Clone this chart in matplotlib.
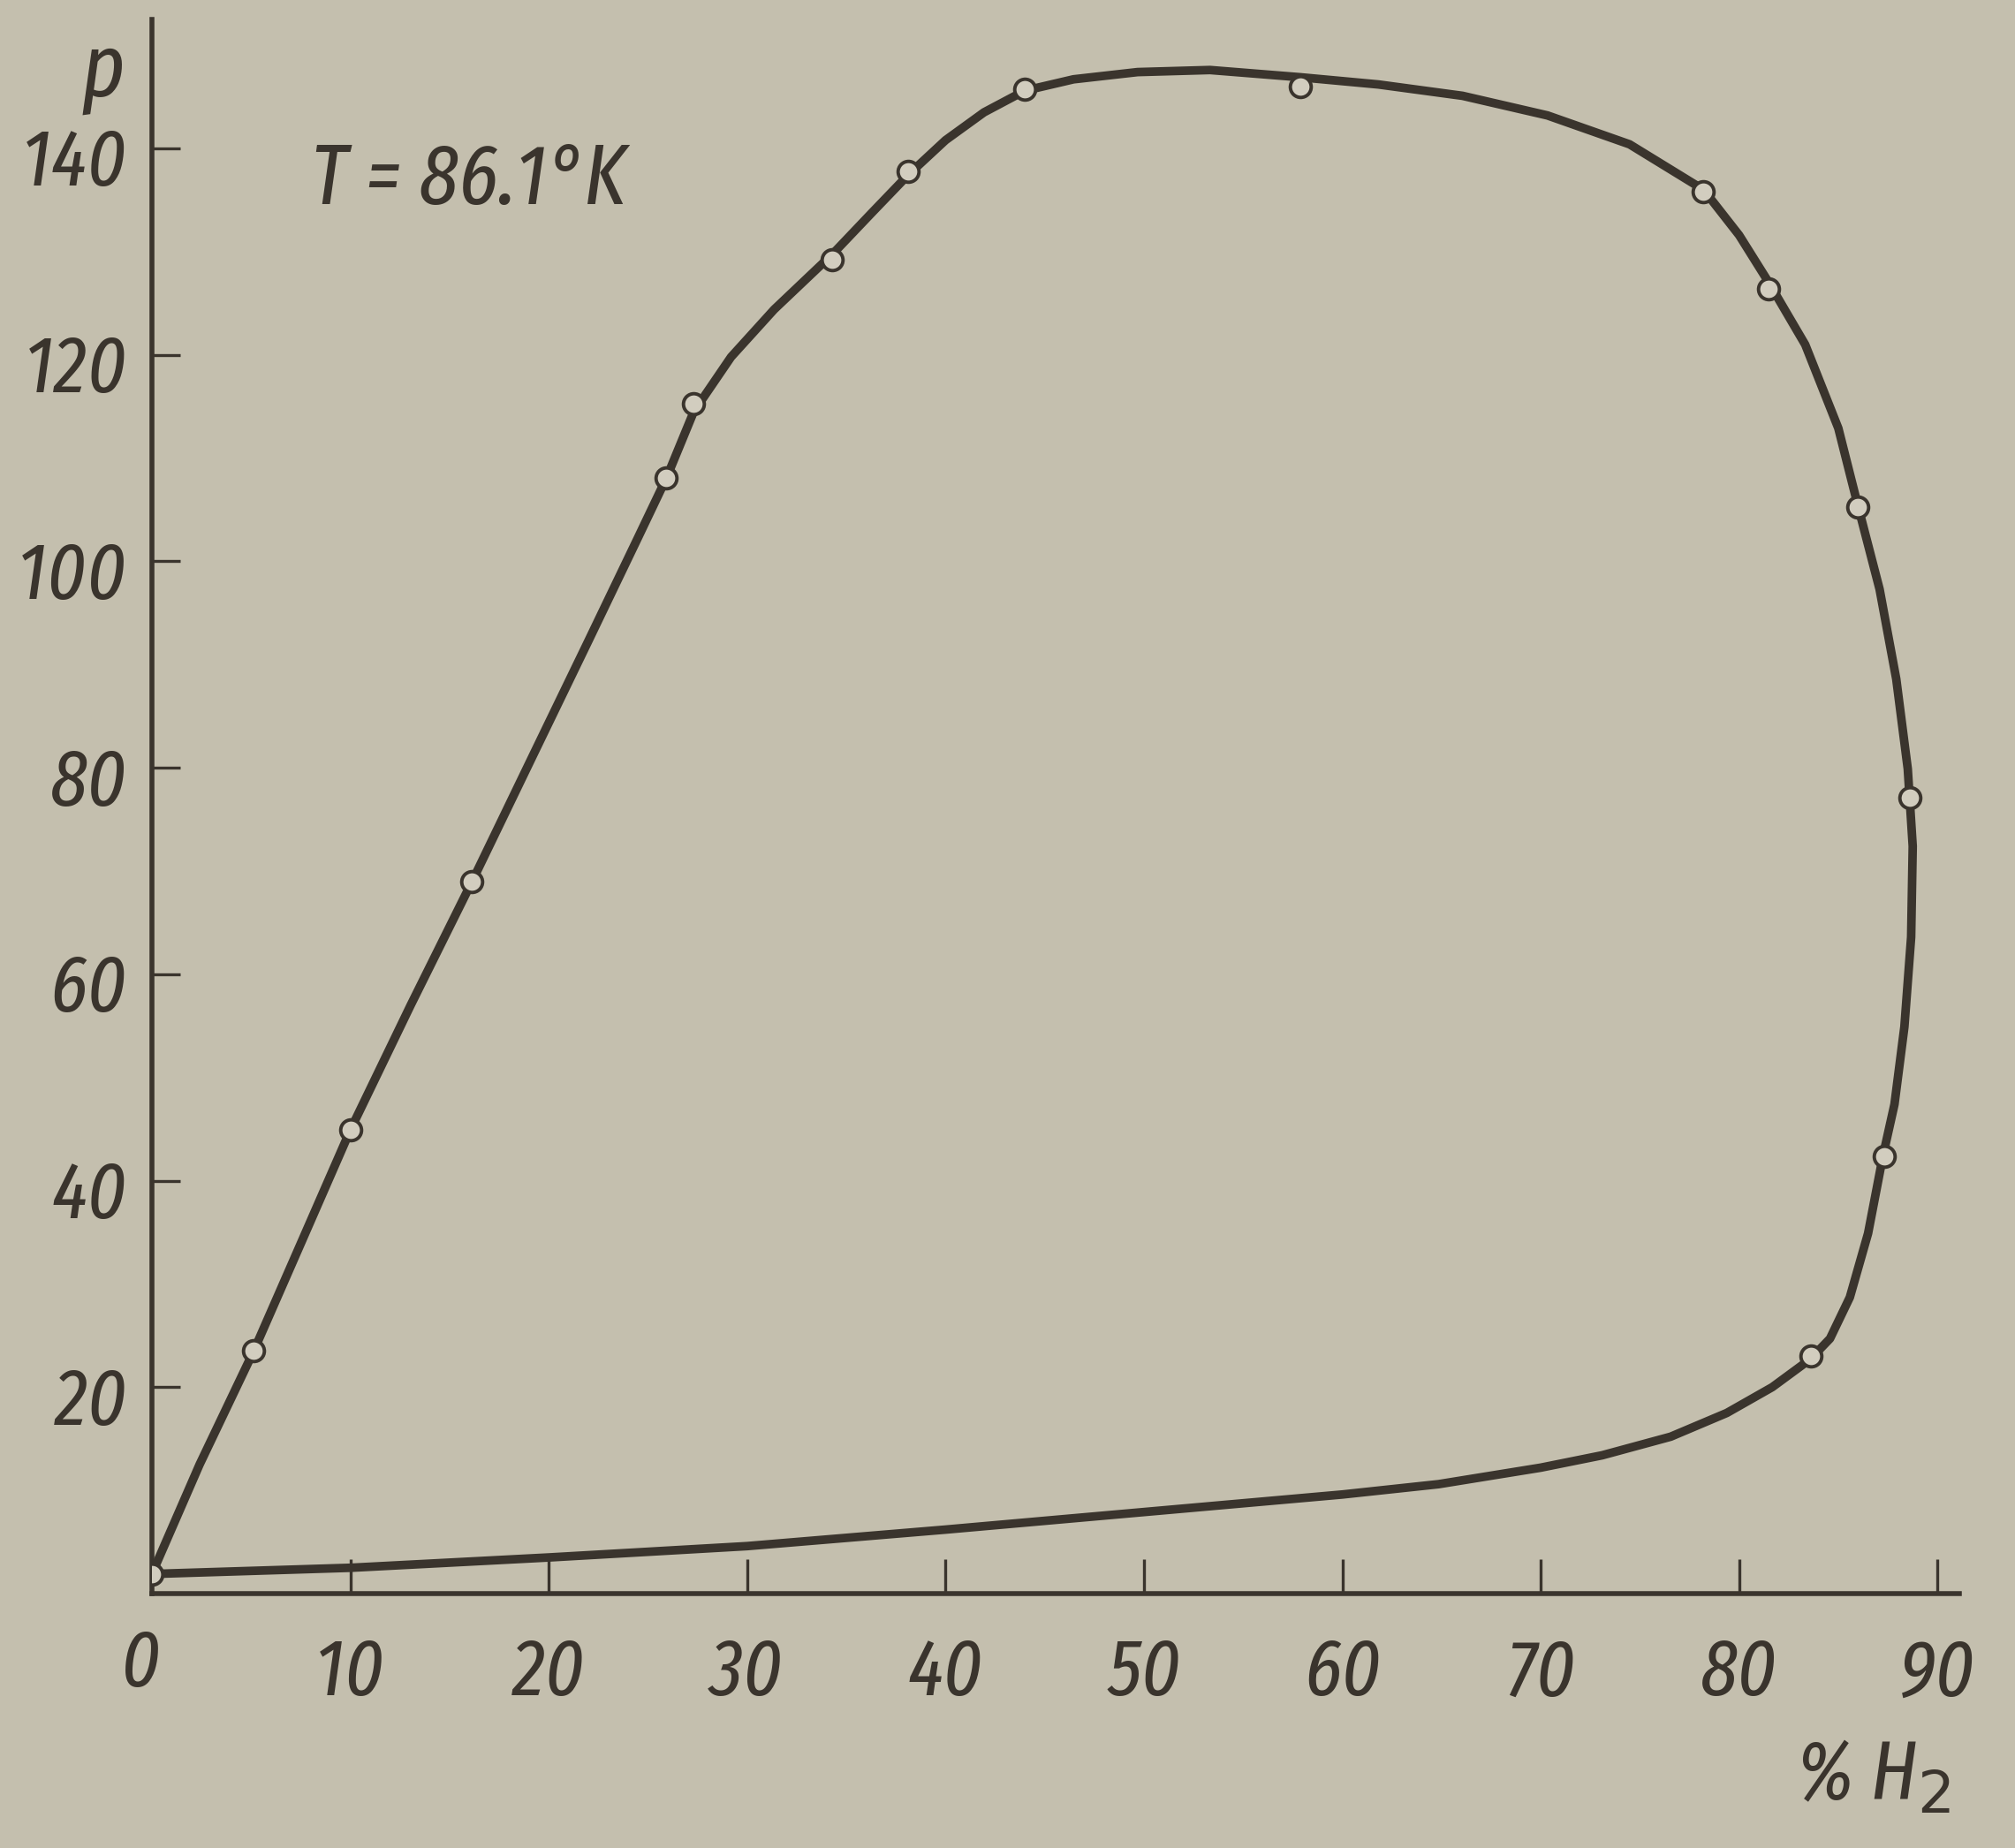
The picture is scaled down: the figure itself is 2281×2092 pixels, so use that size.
import matplotlib
matplotlib.use("Agg")
import matplotlib.pyplot as plt
from matplotlib import font_manager
from matplotlib.font_manager import FontProperties
from matplotlib.transforms import ScaledTranslation

# ---- data ----
# measured points: % H2 and pressure p
pts_x = [0.0, 5.1, 10.0, 16.1, 25.9, 27.3, 34.3, 38.1, 44.0, 57.9,
         78.2, 81.5, 86.0, 88.6, 87.3, 83.6]
pts_p = [1.9, 23.5, 44.9, 69.0, 108.1, 115.3, 129.2, 137.8, 145.7, 146.0,
         135.8, 126.4, 105.3, 77.1, 42.4, 23.0]

# curve (upper branch, then lower branch back to 0)
curve_x = [0.0, 2.4, 5.13, 7.59, 10.0, 13.04, 16.14, 19.18, 22.0, 24.5,
           25.94, 27.31, 29.19, 31.36, 34.32, 36.3, 38.15, 40.0, 41.94, 44.0,
           46.45, 49.68, 53.33, 57.88, 61.82, 66.06, 70.34, 74.48, 78.21, 80.0,
           81.5, 83.33, 85.0, 86.0, 87.08, 87.92, 88.5, 88.75, 88.67, 88.33,
           87.83, 87.25, 86.5, 85.58, 84.58, 83.58,
           81.67, 79.38, 76.55, 73.1, 70.0, 64.85, 60.0, 50.0, 40.0, 30.0,
           20.0, 10.0, 0.0]
curve_p = [1.9, 12.5, 23.5, 34.3, 44.9, 57.0, 69.0, 81.1, 92.3, 102.3,
           108.1, 114.5, 119.8, 124.4, 129.8, 133.8, 137.5, 140.8, 143.5, 145.6,
           146.7, 147.4, 147.6, 146.9, 146.2, 145.1, 143.2, 140.4, 136.0, 131.6,
           127.0, 121.0, 112.9, 105.3, 97.3, 88.6, 79.9, 72.4, 63.6, 54.9,
           47.4, 42.4, 34.9, 28.7, 24.7, 22.7,
           20.0, 17.5, 15.2, 13.4, 12.2, 10.6, 9.6, 7.9, 6.2, 4.6,
           3.5, 2.5, 1.9]

x_ticks = [10, 20, 30, 40, 50, 60, 70, 80, 90]
x_labels = ["10", "20", "30", "40", "50", "60", "70", "80", "90"]
y_ticks = [20, 40, 60, 80, 100, 120, 140]
y_labels = ["20", "40", "60", "80", "100", "120", "140"]

# ---- style ----
BG = "#c4bfae"
INK = "#3a342d"


def narrow_font():
    """Pick the narrowest installed sans face (italic preferred)."""
    cond = ("condensed", "semi-condensed", "extra-condensed", "ultra-condensed")
    found = []
    for f in font_manager.fontManager.ttflist:
        nm = f.name.lower()
        fn = f.fname.lower().replace("-", "").replace("_", "")
        st = f.stretch
        narrow = ("condensed" in nm or "narrow" in nm or "condensed" in fn or
                  (isinstance(st, str) and st in cond) or
                  (isinstance(st, (int, float)) and st < 100))
        if not narrow or "mono" in nm or "serif" in nm:
            continue
        bad = ("bold", "black", "heavy", "medium", "semibold", "light", "thin")
        if any(b in fn.split("/")[-1] for b in bad):
            continue
        it = 0 if (f.style in ("italic", "oblique") or "italic" in fn) else 1
        if "extracondensed" in fn or "ultracondensed" in fn:
            w = 0
        elif "semicondensed" in fn:
            w = 2
        else:
            w = 1
        found.append((it, w, f.fname))
    if found:
        found.sort()
        return found[0][2]
    return None


FNAME = narrow_font()


def fp(size):
    if FNAME:
        return FontProperties(fname=FNAME, size=size)
    return FontProperties(family="DejaVu Sans", style="italic", size=size * 0.72)


W, H = 2281, 2092
fig = plt.figure(figsize=(W / 100, H / 100), dpi=100, facecolor=BG)
left, right = 172 / W, 2218 / W
bottom, top = (H - 1804) / H, (H - 22) / H
ax = fig.add_axes([left, bottom, right - left, top - bottom], facecolor=BG)

ax.plot(curve_x, curve_p, color=INK, lw=7, solid_capstyle="round",
        solid_joinstyle="round", zorder=2)
ax.plot(pts_x, pts_p, linestyle="none", marker="o", ms=17, mew=2.8,
        mec=INK, mfc="#d2cdbf", zorder=3)

ax.set_xlim(0, 91.1)
ax.set_ylim(0, 152.5)
for s in ("top", "right"):
    ax.spines[s].set_visible(False)
for s in ("left", "bottom"):
    ax.spines[s].set_color(INK)
    ax.spines[s].set_linewidth(4)

ax.set_xticks(x_ticks)
ax.set_xticklabels(x_labels)
ax.set_yticks(y_ticks)
ax.set_yticklabels(y_labels)
ax.tick_params(axis="x", direction="in", length=28, width=2.4, color=INK,
               pad=34, labelcolor=INK)
ax.tick_params(axis="y", direction="in", length=23, width=2.4, color=INK,
               pad=20, labelcolor=INK)
LBL = 66
for lab in ax.get_xticklabels() + ax.get_yticklabels():
    lab.set_fontproperties(fp(LBL))
# y labels sit a little below their ticks in the reference
shift = ScaledTranslation(0, -6 / 72, fig.dpi_scale_trans)
for lab in ax.get_yticklabels():
    lab.set_transform(lab.get_transform() + shift)

# zero label at the origin
fig.text(160 / W, 1 - 1885 / H, "0", fontproperties=fp(LBL), color=INK,
         ha="center", va="center")

fig.text(117 / W, 1 - 82 / H, "p", fontproperties=fp(72), color=INK,
         ha="center", va="center")
fig.text(352 / W, 1 - 205 / H, "T = 86.1°K", fontproperties=fp(70),
         color=INK, ha="left", va="center")
fig.text(2120 / W, 1 - 2012 / H, "% H$_2$", fontproperties=fp(68),
         color=INK, ha="center", va="center")

fig.savefig("out.png", dpi=100, facecolor=BG)
